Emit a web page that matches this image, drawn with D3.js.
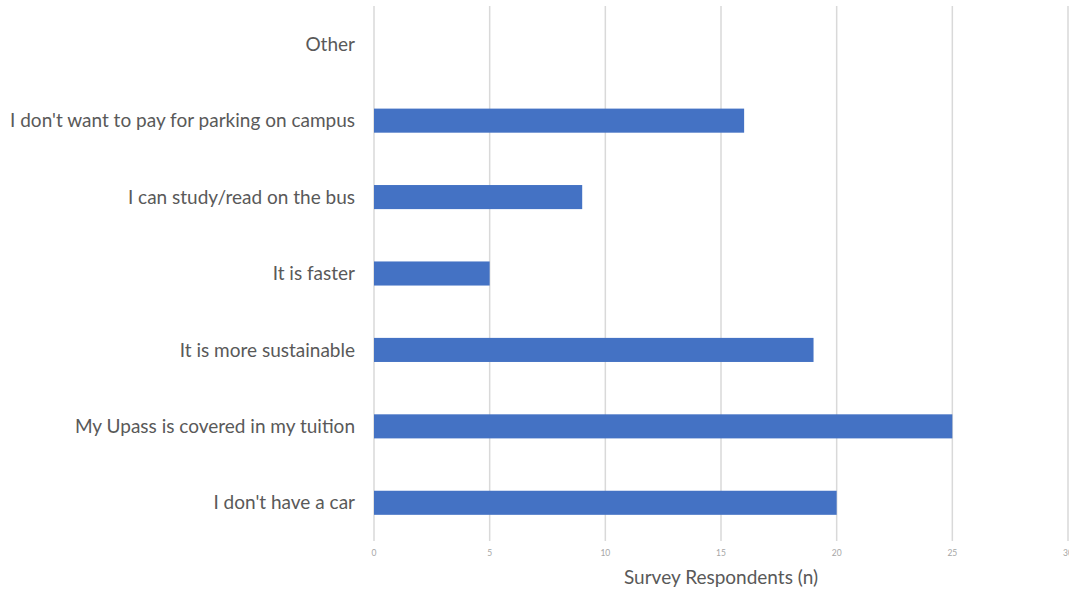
<!DOCTYPE html>
<html>
<head>
  <meta charset="utf-8">
  <title>Survey Respondents</title>
  <script src="https://d3js.org/d3.v7.min.js"></script>
  <style>
    body {
      margin: 0;
      padding: 0;
      background-color: white;
    }
    .cat-label {
      font-family: Lato, sans-serif;
      font-size: 19px;
      fill: #595959;
    }
    .tick-label {
      font-family: Lato, sans-serif;
      font-size: 8.5px;
      fill: #a6a6a6;
    }
    .axis-title {
      font-family: Lato, sans-serif;
      font-size: 19px;
      fill: #595959;
    }
  </style>
</head>
<body>
  <div id="chart"></div>
  <script>
    // data, top to bottom as in the chart
    var reasons = [
      "Other",
      "I don't want to pay for parking on campus",
      "I can study/read on the bus",
      "It is faster",
      "It is more sustainable",
      "My Upass is covered in my tuition",
      "I don't have a car"
    ];
    var counts = [0, 16, 9, 5, 19, 25, 20];
    var ticks = [0, 5, 10, 15, 20, 25, 30];

    var width = 1069, height = 590;
    var plotLeft = 374, plotRight = 1068, plotTop = 6, plotBottom = 541;

    var svg = d3.select("#chart")
      .append("svg")
        .attr("width", width)
        .attr("height", height);

    var x = d3.scaleLinear()
        .domain([0, 30])
        .range([plotLeft, plotRight]);

    var y = d3.scaleBand()
        .domain(reasons)
        .range([plotTop, plotBottom])
        .paddingInner(0.685)
        .paddingOuter(0.3425);

    // gridlines
    svg.selectAll(".grid")
        .data(ticks)
      .enter().append("line")
        .attr("class", "grid")
        .attr("x1", function(d) { return x(d); })
        .attr("x2", function(d) { return x(d); })
        .attr("y1", plotTop)
        .attr("y2", plotBottom)
        .attr("stroke", "#d9d9d9")
        .attr("stroke-width", 1.5);

    // bars
    svg.selectAll(".bar")
        .data(counts)
      .enter().append("rect")
        .attr("class", "bar")
        .attr("x", x(0))
        .attr("y", function(d, i) { return y(reasons[i]); })
        .attr("width", function(d) { return x(d) - x(0); })
        .attr("height", y.bandwidth())
        .attr("fill", "#4472c4");

    // x tick labels
    svg.selectAll(".tick-label")
        .data(ticks)
      .enter().append("text")
        .attr("class", "tick-label")
        .attr("x", function(d) { return x(d); })
        .attr("y", 556)
        .attr("text-anchor", "middle")
        .text(function(d) { return d; });

    // category labels
    svg.selectAll(".cat-label")
        .data(reasons)
      .enter().append("text")
        .attr("class", "cat-label")
        .attr("x", 355)
        .attr("y", function(d) { return y(d) + y.bandwidth() / 2; })
        .attr("dy", "0.35em")
        .attr("text-anchor", "end")
        .text(function(d) { return d; });

    svg.append("text")
        .attr("class", "axis-title")
        .attr("x", 721)
        .attr("y", 584)
        .attr("text-anchor", "middle")
        .text("Survey Respondents (n)");
  </script>
</body>
</html>
